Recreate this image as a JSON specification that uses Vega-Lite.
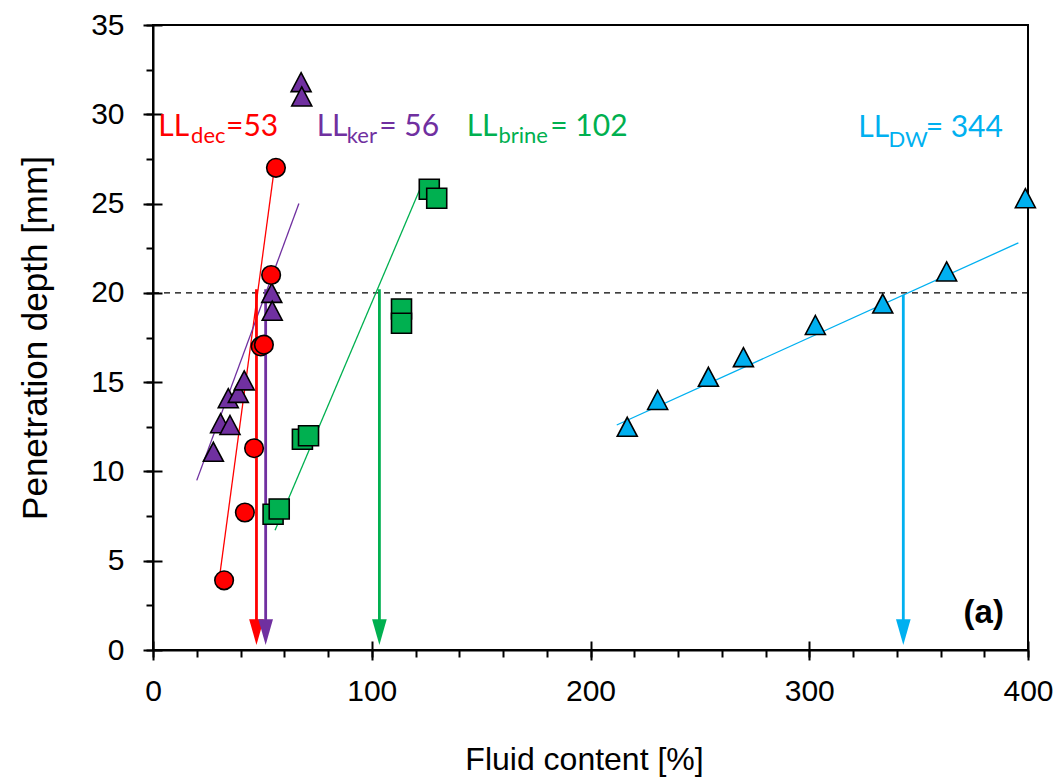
{
  "$schema": "https://vega.github.io/schema/vega-lite/v6.json",
  "width": 875,
  "height": 625,
  "autosize": "none",
  "padding": {"left": 153, "top": 25, "right": 30, "bottom": 128},
  "background": "white",
  "config": {
    "view": {"stroke": "black", "strokeWidth": 2},
    "axis": {
      "grid": false,
      "domainColor": "black",
      "domainWidth": 2,
      "tickColor": "black",
      "tickWidth": 2,
      "labelFont": "Liberation Sans",
      "labelFontSize": 30,
      "labelColor": "black",
      "titleFont": "Liberation Sans",
      "titleFontSize": 32,
      "titleFontWeight": "normal",
      "titleColor": "black"
    }
  },
  "datasets": {
    "points": [
      {"series": "dec", "x": 32.5, "y": 3.9},
      {"series": "dec", "x": 42.0, "y": 7.7},
      {"series": "dec", "x": 46.2, "y": 11.3},
      {"series": "dec", "x": 49.2, "y": 17.0},
      {"series": "dec", "x": 50.7, "y": 17.1},
      {"series": "dec", "x": 54.0, "y": 21.0},
      {"series": "dec", "x": 56.2, "y": 27.0},
      {"series": "ker", "x": 27.6, "y": 11.1},
      {"series": "ker", "x": 30.9, "y": 12.7},
      {"series": "ker", "x": 35.2, "y": 12.6},
      {"series": "ker", "x": 34.4, "y": 14.1},
      {"series": "ker", "x": 39.0, "y": 14.4},
      {"series": "ker", "x": 41.7, "y": 15.1},
      {"series": "ker", "x": 54.3, "y": 20.0},
      {"series": "ker", "x": 54.5, "y": 19.0},
      {"series": "ker", "x": 67.7, "y": 31.8},
      {"series": "ker", "x": 68.0, "y": 31.0},
      {"series": "brine", "x": 54.9, "y": 7.6},
      {"series": "brine", "x": 57.7, "y": 7.9},
      {"series": "brine", "x": 68.3, "y": 11.8},
      {"series": "brine", "x": 71.1, "y": 12.0},
      {"series": "brine", "x": 113.6, "y": 19.1},
      {"series": "brine", "x": 113.6, "y": 18.3},
      {"series": "brine", "x": 126.3, "y": 25.8},
      {"series": "brine", "x": 129.7, "y": 25.3},
      {"series": "DW", "x": 216.8, "y": 12.5},
      {"series": "DW", "x": 230.7, "y": 14.0},
      {"series": "DW", "x": 253.9, "y": 15.3},
      {"series": "DW", "x": 269.9, "y": 16.4},
      {"series": "DW", "x": 302.8, "y": 18.2},
      {"series": "DW", "x": 333.6, "y": 19.4},
      {"series": "DW", "x": 362.8, "y": 21.2},
      {"series": "DW", "x": 398.8, "y": 25.3}
    ],
    "fits": [
      {"series": "dec", "x": 30.2, "y": 3.9},
      {"series": "dec", "x": 55.5, "y": 27.0},
      {"series": "ker", "x": 20.0, "y": 9.5},
      {"series": "ker", "x": 66.7, "y": 25.0},
      {"series": "brine", "x": 55.8, "y": 6.7},
      {"series": "brine", "x": 122.0, "y": 25.8},
      {"series": "DW", "x": 212.0, "y": 12.6},
      {"series": "DW", "x": 395.6, "y": 22.8}
    ],
    "arrows": [
      {"series": "dec", "x": 47.3, "y": 20.2},
      {"series": "ker", "x": 51.5, "y": 20.2},
      {"series": "brine", "x": 103.5, "y": 20.2},
      {"series": "DW", "x": 343.0, "y": 19.9}
    ],
    "labels": [
      {"series": "dec", "kind": "main", "text": "LL", "x": 2.4, "y": 28.8},
      {"series": "dec", "kind": "sub", "text": "dec", "x": 17.4, "y": 28.38},
      {"series": "dec", "kind": "main", "text": "=53", "x": 33.4, "y": 28.8},
      {"series": "ker", "kind": "main", "text": "LL", "x": 74.8, "y": 28.8},
      {"series": "ker", "kind": "sub", "text": "ker", "x": 88.6, "y": 28.38},
      {"series": "ker", "kind": "main", "text": "= 56", "x": 103.4, "y": 28.8},
      {"series": "brine", "kind": "main", "text": "LL", "x": 143.4, "y": 28.8},
      {"series": "brine", "kind": "sub", "text": "brine", "x": 157.9, "y": 28.38},
      {"series": "brine", "kind": "main", "text": "= 102", "x": 181.6, "y": 28.8},
      {"series": "DW", "kind": "main", "text": "LL", "x": 322.4, "y": 28.74},
      {"series": "DW", "kind": "sub", "text": "DW", "x": 336.2, "y": 28.15},
      {"series": "DW", "kind": "main", "text": "= 344", "x": 353.2, "y": 28.74}
    ],
    "ref": [
      {"x": 0, "y": 20},
      {"x": 400, "y": 20}
    ],
    "panel": [
      {"text": "(a)", "x": 389, "y": 1.5}
    ]
  },
  "layer": [
    {
      "encoding": {
        "x": {
          "field": "x", "type": "quantitative", "title": "Fluid content [%]",
          "scale": {"domain": [0, 400], "nice": false, "zero": false},
          "axis": {
            "values": [0,20,40,60,80,100,120,140,160,180,200,220,240,260,280,300,320,340,360,380,400],
            "labelExpr": "datum.value % 100 === 0 ? format(datum.value, 'd') : ''",
            "tickSize": 7, "labelPadding": 19, "titlePadding": 38, "titleX": 431,
            "labelFlush": false, "labelOverlap": false
          }
        },
        "y": {
          "field": "y", "type": "quantitative", "title": "Penetration depth [mm]",
          "scale": {"domain": [0, 35], "nice": false, "zero": false},
          "axis": {
            "values": [0,2.5,5,7.5,10,12.5,15,17.5,20,22.5,25,27.5,30,32.5,35],
            "labelExpr": "datum.value % 5 === 0 ? format(datum.value, 'd') : ''",
            "tickSize": 7, "labelPadding": 22, "titlePadding": 37, "titleFontSize": 35,
            "labelFlush": false, "labelOverlap": false
          }
        }
      },
      "layer": [
        {
          "data": {"name": "ref"},
          "mark": {"type": "line", "color": "black", "strokeWidth": 1.2, "strokeDash": [6, 5]}
        },
        {
          "data": {"name": "fits"},
          "mark": {"type": "line", "strokeWidth": 1.3},
          "encoding": {
            "color": {"field": "series", "type": "nominal", "legend": null,
              "scale": {"domain": ["dec", "ker", "brine", "DW"], "range": ["#FF0000", "#7030A0", "#00B050", "#00B0F0"]}}
          }
        },
        {
          "data": {"name": "arrows"},
          "mark": {"type": "rule", "strokeWidth": 2.8},
          "encoding": {
            "y2": {"datum": 1.5},
            "color": {"field": "series", "type": "nominal", "legend": null,
              "scale": {"domain": ["dec", "ker", "brine", "DW"], "range": ["#FF0000", "#7030A0", "#00B050", "#00B0F0"]}}
          }
        },
        {
          "data": {"name": "arrows"},
          "mark": {"type": "point", "filled": true, "opacity": 1, "size": 660, "shape": "M-0.57,-1L0.57,-1L0,1Z", "strokeWidth": 0},
          "encoding": {
            "y": {"datum": 1.0},
            "color": {"field": "series", "type": "nominal", "legend": null,
              "scale": {"domain": ["dec", "ker", "brine", "DW"], "range": ["#FF0000", "#7030A0", "#00B050", "#00B0F0"]}}
          }
        },
        {
          "data": {"name": "points"},
          "transform": [{"filter": "datum.series === 'ker' || datum.series === 'DW'"}],
          "mark": {"type": "point", "filled": true, "opacity": 1, "size": 400, "shape": "M0,-0.95L1,0.95L-1,0.95Z", "stroke": "black", "strokeWidth": 1.6},
          "encoding": {
            "color": {"field": "series", "type": "nominal", "legend": null,
              "scale": {"domain": ["dec", "ker", "brine", "DW"], "range": ["#FF0000", "#7030A0", "#00B050", "#00B0F0"]}}
          }
        },
        {
          "data": {"name": "points"},
          "transform": [{"filter": "datum.series === 'brine'"}],
          "mark": {"type": "point", "filled": true, "opacity": 1, "size": 400, "shape": "square", "stroke": "black", "strokeWidth": 1.6},
          "encoding": {
            "color": {"field": "series", "type": "nominal", "legend": null,
              "scale": {"domain": ["dec", "ker", "brine", "DW"], "range": ["#FF0000", "#7030A0", "#00B050", "#00B0F0"]}}
          }
        },
        {
          "data": {"name": "points"},
          "transform": [{"filter": "datum.series === 'dec'"}],
          "mark": {"type": "point", "filled": true, "opacity": 1, "size": 345, "shape": "circle", "stroke": "black", "strokeWidth": 1.6},
          "encoding": {
            "color": {"field": "series", "type": "nominal", "legend": null,
              "scale": {"domain": ["dec", "ker", "brine", "DW"], "range": ["#FF0000", "#7030A0", "#00B050", "#00B0F0"]}}
          }
        },
        {
          "data": {"name": "labels"},
          "transform": [{"filter": "datum.kind === 'main'"}],
          "mark": {"type": "text", "font": "Lato", "fontSize": 30, "align": "left", "baseline": "alphabetic"},
          "encoding": {
            "text": {"field": "text"},
            "color": {"field": "series", "type": "nominal", "legend": null,
              "scale": {"domain": ["dec", "ker", "brine", "DW"], "range": ["#FF0000", "#7030A0", "#00B050", "#00B0F0"]}}
          }
        },
        {
          "data": {"name": "labels"},
          "transform": [{"filter": "datum.kind === 'sub'"}],
          "mark": {"type": "text", "font": "Lato", "fontSize": 22, "align": "left", "baseline": "alphabetic"},
          "encoding": {
            "text": {"field": "text"},
            "color": {"field": "series", "type": "nominal", "legend": null,
              "scale": {"domain": ["dec", "ker", "brine", "DW"], "range": ["#FF0000", "#7030A0", "#00B050", "#00B0F0"]}}
          }
        },
        {
          "data": {"name": "panel"},
          "mark": {"type": "text", "font": "Liberation Sans", "fontSize": 33, "fontWeight": "bold", "color": "black", "align": "right", "baseline": "alphabetic"},
          "encoding": {"text": {"field": "text"}}
        }
      ]
    },
    {
      "data": {"name": "points"},
      "mark": {"type": "point", "opacity": 0},
      "encoding": {
        "x": {
          "field": "x", "type": "quantitative",
          "scale": {"domain": [0, 400], "nice": false, "zero": false},
          "axis": {"orient": "bottom", "values": [0, 100, 200, 300, 400], "tickSize": 19, "offset": -9, "labels": false, "domain": false, "title": null}
        },
        "y": {
          "field": "y", "type": "quantitative",
          "scale": {"domain": [0, 35], "nice": false, "zero": false},
          "axis": {"orient": "left", "values": [0, 5, 10, 15, 20, 25, 30, 35], "tickSize": 19, "offset": -9, "labels": false, "domain": false, "title": null}
        }
      }
    }
  ],
  "resolve": {"axis": {"x": "independent", "y": "independent"}}
}
